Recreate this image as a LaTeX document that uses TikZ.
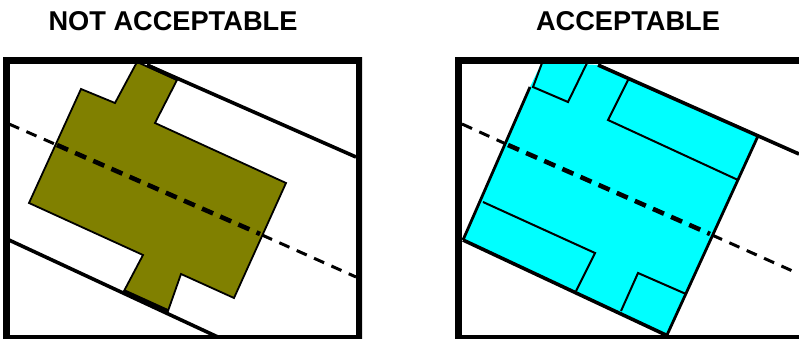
\documentclass[tikz,border=0pt]{standalone}
\usepackage{fontspec}
\setmainfont{Liberation Sans}
\definecolor{oliveb}{RGB}{128,128,0}
\definecolor{cyanb}{RGB}{0,255,255}
\tikzset{
  every picture/.style={x=1pt,y=-1pt},
  titletext/.style={font=\fontsize{27.2}{30}\selectfont\bfseries,text=black,inner sep=0pt,anchor=base},
  framebox/.style={draw=black,line width=7pt,line join=miter},
  roadline/.style={draw=black,line width=3.6pt},
  thinline/.style={draw=black,line width=2pt},
  edgeline/.style={draw=black,line width=2.8pt},
  axisthin/.style={draw=black,line width=3pt,dash pattern=on 11pt off 8pt},
  axisthick/.style={draw=black,line width=4.6pt,dash pattern=on 12pt off 7.8pt},
}
\begin{document}
\begin{tikzpicture}
\useasboundingbox (0,0) rectangle (799,339);
\node[titletext] (t1) at (173,31) {NOT ACCEPTABLE};
\node[titletext] (t2) at (628,31) {ACCEPTABLE};
% left panel
\begin{scope}
\clip (2,57) rectangle (362,339);
\draw[roadline] (147,65) -- (356,157);
\draw[roadline] (9,240) -- (220,338);
\draw[axisthin] (9,124) -- (57,145);
\draw[axisthin] (262,235) -- (356,277);
\fill[oliveb,draw=black,line width=1.8pt,line join=miter]
  (137,62) -- (177,80) -- (155,123) -- (286,183) -- (234,298) -- (181,274)
  -- (168,311) -- (124,291) -- (143,255) -- (29,203) -- (81,89) -- (115,103) -- cycle;
\draw[roadline] (124,291) -- (168,311);
\draw[roadline] (147,65) -- (177,79);
\draw[axisthick] (57,145) -- (260,234);
\draw[framebox] (6,61) rectangle (359,338.5);
\end{scope}
% right panel
\begin{scope}
\clip (454,57) rectangle (799,339);
\fill[cyanb] (542,62) -- (598,65) -- (758,136) -- (667,335) -- (463,240) -- (530,87) -- cycle;
\draw[roadline] (598,65) -- (799,154);
\draw[roadline] (463,240) -- (668,336);
\draw[edgeline] (463,240) -- (530,87);
\draw[edgeline] (758,136) -- (667,335);
\draw[thinline] (542,63) -- (533,87) -- (568,102) -- (587,63);
\draw[thinline] (628,80) -- (608,120) -- (738,180);
\draw[thinline] (483,202) -- (595,253) -- (576,291);
\draw[thinline] (621,311) -- (638,273) -- (686,294);
\draw[axisthin] (462,124) -- (506,144);
\draw[axisthin] (712,235) -- (797,273);
\draw[axisthick] (508,145) -- (710,234);
\draw[framebox] (810,61) -- (458,61) -- (458,338.5) -- (810,338.5);
\end{scope}
\end{tikzpicture}
\end{document}
